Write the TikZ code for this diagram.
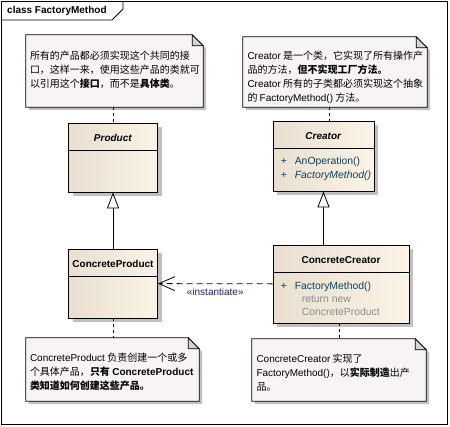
\documentclass[tikz,border=0pt]{standalone}
\usepackage{fontspec}
\setmainfont{Liberation Sans}
\newfontfamily\cjk{Noto Sans CJK SC}
\usepackage{tikz}
\usetikzlibrary{ % tikz packages
    positioning,shadows,
    arrows.meta
}
\definecolor{classLeft}{RGB}{232,223,208}
\definecolor{classRight}{RGB}{251,243,229}
\definecolor{noteFill}{RGB}{247,243,247}
\definecolor{foldFill}{RGB}{214,210,214}
\definecolor{shadowGray}{RGB}{192,192,192}
\definecolor{memberBlue}{RGB}{16,64,96}
\definecolor{stereoPurple}{RGB}{48,24,96}
\tikzset{umlclass/.style={
    draw, line width=0.8pt, inner sep=0pt,
    left color=classLeft, right color=classRight,
    drop shadow={shadow xshift=4pt,shadow yshift=-4pt,fill=shadowGray,opacity=1}
}}
\tikzset{
    frame/.style={line width=0.8pt},
    classtitle/.style={inner sep=0pt,font=\bfseries},
    member/.style={anchor=west,inner sep=0pt,text=memberBlue,font=\fontsize{10.4}{12}\selectfont},
    code/.style={member,text=black!45},
    notebox/.style={draw,line width=0.8pt,fill=noteFill},
    notefold/.style={draw,line width=0.8pt,fill=foldFill},
    notetext/.style={anchor=north west,align=left,inner sep=0pt,
        font=\cjk\fontsize{10}{14}\selectfont,execute at begin node=\rule{0pt}{10pt}},
    notelink/.style={line width=0.8pt,dash pattern=on 3pt off 3pt},
    inherit/.style={line width=0.8pt,-{Triangle[length=16pt,width=12pt,fill=white]}},
    depend/.style={line width=0.8pt,dash pattern=on 6pt off 4pt,-{Straight Barb[length=16pt,width=14pt]}},
    stereo/.style={text=stereoPurple,inner sep=0pt}
}
\newcommand{\en}[1]{{\rmfamily #1}}
\newcommand{\plusmark}{\makebox[14pt][l]{+}}

\begin{document}
\begin{tikzpicture}[x=1pt,y=-1pt,node distance=126pt,on grid,font=\fontsize{10}{12}\selectfont]
        \useasboundingbox (0,0) rectangle (450,426);
        \draw[frame] (1.5,1.5) rectangle (447,424.5);
        \draw[frame] (1.5,20) -- (112,20) -- (123,9) -- (123,1.5);
        \node[anchor=west,inner sep=0pt] (tab) at (7,11) {\textbf{class FactoryMethod}};

        \node[umlclass,minimum width=89pt,minimum height=69pt] (product) at (113,157.5) {};
        \node[umlclass,minimum width=89pt,minimum height=69pt] (cproduct) [below=of product] {};
        \node[umlclass,minimum width=101pt,minimum height=70pt] (creator) at (323.5,156) {};
        \node[umlclass,minimum width=136pt,minimum height=78pt] (ccreator) [below right=128pt and 17.5pt of creator] {};

        \foreach \c in {product,cproduct,creator,ccreator}
            \draw[frame] ([yshift=-27.5pt]\c.north west) -- ([yshift=-27.5pt]\c.north east);

        \node[classtitle] (productT) at ([yshift=-15pt]product.north) {\textit{Product}};
        \node[classtitle] (cproductT) at ([yshift=-15pt]cproduct.north) {ConcreteProduct};
        \node[classtitle] (creatorT) at ([yshift=-15pt]creator.north) {\textit{Creator}};
        \node[classtitle] (ccreatorT) at ([yshift=-15pt]ccreator.north) {ConcreteCreator};

        \node[member] (creatorOp1) at ([shift={(8pt,-41pt)}]creator.north west) {\plusmark AnOperation()};
        \node[member] (creatorOp2) at ([shift={(8pt,-55pt)}]creator.north west) {\plusmark\textit{FactoryMethod()}};
        \node[member] (ccreatorOp) at ([shift={(8pt,-42pt)}]ccreator.north west) {\plusmark FactoryMethod()};
        \node[code] (ccreatorC1) at ([shift={(29pt,-55pt)}]ccreator.north west) {return new};
        \node[code] (ccreatorC2) at ([shift={(29pt,-67pt)}]ccreator.north west) {ConcreteProduct};

        \node[minimum width=177pt,minimum height=72pt] (n1) at (114.5,71) {};
        \node[minimum width=184pt,minimum height=70pt] (n2) at (335,72) {};
        \node[minimum width=173pt,minimum height=63pt] (n3) at (112.5,369.5) {};
        \node[minimum width=174pt,minimum height=62pt] (n4) at (339,370) {};

        \foreach \n in {n1,n2,n3,n4} {
            \fill[shadowGray] ([shift={(3pt,-3pt)}]\n.north west) -- ([shift={(-8pt,-3pt)}]\n.north east)
                -- ([shift={(3pt,-14pt)}]\n.north east) -- ([shift={(3pt,-3pt)}]\n.south east)
                -- ([shift={(3pt,-3pt)}]\n.south west) -- cycle;
            \draw[notebox] (\n.north west) -- ([xshift=-11pt]\n.north east) -- ([yshift=-11pt]\n.north east)
                -- (\n.south east) -- (\n.south west) -- cycle;
            \draw[notefold] ([xshift=-11pt]\n.north east) -- ([shift={(-11pt,-11pt)}]\n.north east)
                -- ([yshift=-11pt]\n.north east) -- cycle;
        }

        \node[notetext] (n1t) at ([shift={(4pt,-15.6pt)}]n1.north west)
            {所有的产品都必须实现这个共同的接\\口，这样一来，使用这些产品的类就可\\以引用这个\textbf{接口}，而不是\textbf{具体类}。};
        \node[notetext] (n2t) at ([shift={(4.5pt,-13.6pt)}]n2.north west)
            {\en{Creator} 是一个类，它实现了所有操作产\\品的方法，\textbf{但不实现工厂方法。}\\\en{Creator} 所有的子类都必须实现这个抽象\\的 \en{FactoryMethod()} 方法。};
        \node[notetext] (n3t) at ([shift={(4pt,-14.6pt)}]n3.north west)
            {\en{ConcreteProduct} 负责创建一个或多\\个具体产品，\textbf{只有 \en{ConcreteProduct}}\\\textbf{类知道如何创建这些产品。}};
        \node[notetext] (n4t) at ([shift={(4.5pt,-15pt)}]n4.north west)
            {\en{ConcreteCreator} 实现了\\\en{FactoryMethod()}，以\textbf{实际制造}出产\\品。};

        \draw[notelink] (n1.south -| product.north) -- (product.north);
        \draw[notelink] ([xshift=5.5pt]creator.north |- n2.south) -- ([xshift=5.5pt]creator.north);
        \draw[notelink] (cproduct.south) -- (cproduct.south |- n3.north);
        \draw[notelink] ([xshift=-2pt]ccreator.south) -- ([xshift=-2pt]ccreator.south |- n4.north);

        \draw[inherit] (cproduct) -- (product);
        \draw[inherit] (creator.south |- ccreator.north) -- (creator.south);
        \draw[depend] (ccreator) -- (cproduct)
            node[midway,below=4pt,stereo] (inst) {«instantiate»};
    \end{tikzpicture}
\end{document}
